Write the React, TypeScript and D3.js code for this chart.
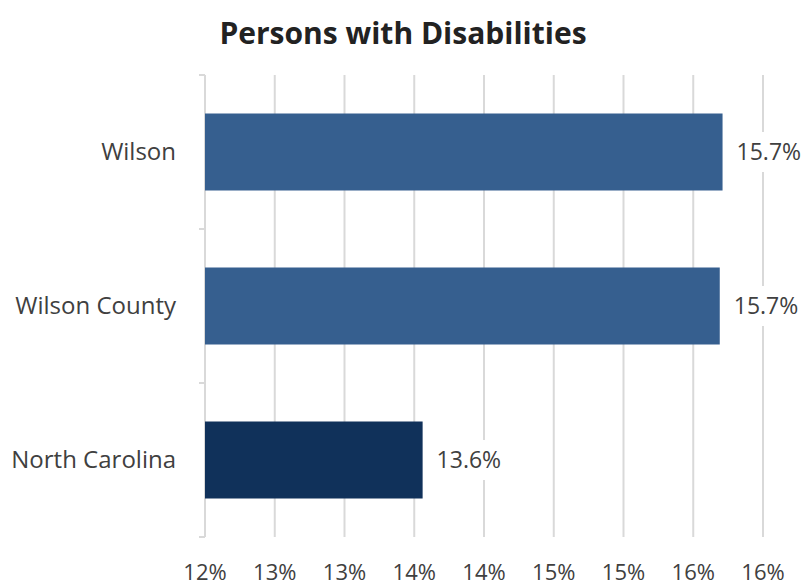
import React from "react";
import * as d3 from "d3";

const categories = ["Wilson", "Wilson County", "North Carolina"];
const values = [15.71, 15.69, 13.56];
const valueLabels = ["15.7%", "15.7%", "13.6%"];
const barColors = ["#365F8F", "#365F8F", "#10315A"];
const tickValues = [12, 12.5, 13, 13.5, 14, 14.5, 15, 15.5, 16];
const title = "Persons with Disabilities";

const W = 804, H = 588;
const M = { left: 205, right: 41, top: 75, bottom: 51 };

export default function App() {
  const x = d3.scaleLinear().domain([12, 16]).range([M.left, W - M.right]);
  const y = d3.scaleBand<string>().domain(categories).range([M.top, H - M.bottom]).paddingInner(0.5).paddingOuter(0.25);
  const fmt = d3.format(".0f");
  const font = "'Open Sans', 'Noto Sans', sans-serif";
  const bandBounds = [M.top, ...categories.slice(1).map((c) => (y(c)! - y.step() * y.paddingInner() / 2)), H - M.bottom];
  return (
    <svg width={W} height={H} style={{ position: "absolute", left: 0, top: 0, background: "#fff" }} fontFamily={font}>
      <rect x={0} y={0} width={W} height={H} fill="#fff" />
      <text x={403} y={44} textAnchor="middle" fontSize={30} fontWeight={700} fill="#222">{title}</text>
      {tickValues.map((t, i) => (
        <line key={"g" + i} x1={x(t)} x2={x(t)} y1={M.top} y2={H - M.bottom} stroke="#D9D9D9" strokeWidth={2} />
      ))}
      {bandBounds.map((b, i) => (
        <line key={"t" + i} x1={M.left - 6} x2={M.left} y1={b} y2={b} stroke="#D9D9D9" strokeWidth={2} />
      ))}
      {categories.map((c, i) => (
        <rect key={"b" + i} x={x(12)} y={y(c)!} width={x(values[i]) - x(12)} height={y.bandwidth()} fill={barColors[i]} />
      ))}
      {categories.map((c, i) => {
        const lx = x(values[i]) + 14;
        const cy = y(c)! + y.bandwidth() / 2;
        return (
          <g key={"l" + i}>
            <rect x={lx - 2} y={cy - 20} width={68} height={40} fill="#fff" />
            <text x={lx} y={cy} dy="0.35em" fontSize={23} fill="#404040">{valueLabels[i]}</text>
          </g>
        );
      })}
      {categories.map((c, i) => (
        <text key={"c" + i} x={176} y={y(c)! + y.bandwidth() / 2} dy="0.35em" textAnchor="end" fontSize={24} fill="#404040">{c}</text>
      ))}
      {tickValues.map((t, i) => (
        <text key={"x" + i} x={x(t)} y={580} textAnchor="middle" fontSize={22} fill="#404040">{fmt(t) + "%"}</text>
      ))}
    </svg>
  );
}
